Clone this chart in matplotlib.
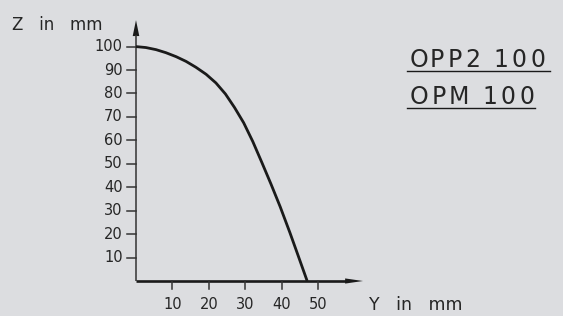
import numpy as np
import matplotlib
matplotlib.use("Agg")
import matplotlib.pyplot as plt

# curve (Y in mm, Z in mm)
y_mm = [0, 2.7, 5.5, 8.2, 11.0, 13.7, 16.4, 19.2, 21.9, 24.5, 27.0, 29.5,
        32.0, 34.5, 37.0, 39.5, 42.2, 44.5, 46.9]
z_mm = [100, 99.6, 98.7, 97.4, 95.7, 93.7, 91.2, 88.2, 84.5, 79.8, 74.0, 67.5,
        59.5, 50.5, 41.3, 31.7, 20.5, 10.5, 0]

z_ticks = [10, 20, 30, 40, 50, 60, 70, 80, 90, 100]
y_ticks = [10, 20, 30, 40, 50]
profile = ["OPP2", "OPM"]
size = ["100", "100"]

bg = "#dcdde0"
ink = "#1a1a1a"
txt = "#262626"
plt.rcParams["font.family"] = "DejaVu Sans"

fig = plt.figure(figsize=(5.63, 3.16), dpi=100, facecolor=bg)
ax = fig.add_axes([0, 0, 1, 1])
ax.set_facecolor(bg)
# 3.65 px per mm on Y, 2.344 px per mm on Z, origin at pixel (136, 281)
ax.set_xlim(-37.26, 116.99)
ax.set_ylim(-14.93, 119.88)
ax.axis("off")


def px(x):
    return (x - 136) / 3.65


def spaced(x0, pitch, z, s, fs):
    # draw one character at a time to get the wide CAD-like tracking
    for i, ch in enumerate(s):
        ax.text(px(x0 + i * pitch), z, ch, ha="center", va="baseline",
                fontsize=fs, color=txt)


# axes lines
ax.plot([0, 0], [0, 105], color="#333333", lw=1.1, solid_capstyle="butt")
ax.plot([0, 58], [0, 0], color=ink, lw=1.9, solid_capstyle="butt")
# arrow heads
ax.fill([-0.9, 0.9, 0], [104.5, 104.5, 111.3], color=ink, lw=0)
ax.fill([57.3, 57.3, 62.2], [-1.1, 1.1, 0], color=ink, lw=0)

# ticks
for z in z_ticks:
    ax.plot([-2.5, 0], [z, z], color="#333333", lw=1.1)
    ax.text(-3.6, z, str(z), ha="right", va="center", fontsize=10.5, color=txt)
for y in y_ticks:
    ax.plot([y, y], [0, -3.4], color="#333333", lw=1.1)
    ax.text(y, -11.9, str(y), ha="center", va="baseline", fontsize=10.5, color=txt)

# curve
ax.plot(y_mm, z_mm, color=ink, lw=2.0, solid_capstyle="butt", solid_joinstyle="round")

# axis titles
ax.text(px(12), 107.1, "Z   in   mm", ha="left", va="baseline", fontsize=12, color=txt)
ax.text(px(369), -12.4, "Y   in   mm", ha="left", va="baseline", fontsize=12.5, color=txt)

# labels with underline
spaced(419, 18.0, 91.1, profile[0], 17)
spaced(501, 18.5, 91.1, size[0], 17)
ax.plot([px(407), px(550)], [89.4, 89.4], color=ink, lw=1.0)
spaced(419, 20.0, 75.3, profile[1], 17)
spaced(490, 18.5, 75.3, size[1], 17)
ax.plot([px(407), px(535)], [73.6, 73.6], color=ink, lw=1.0)

fig.savefig("out.png", dpi=100, facecolor=bg)
